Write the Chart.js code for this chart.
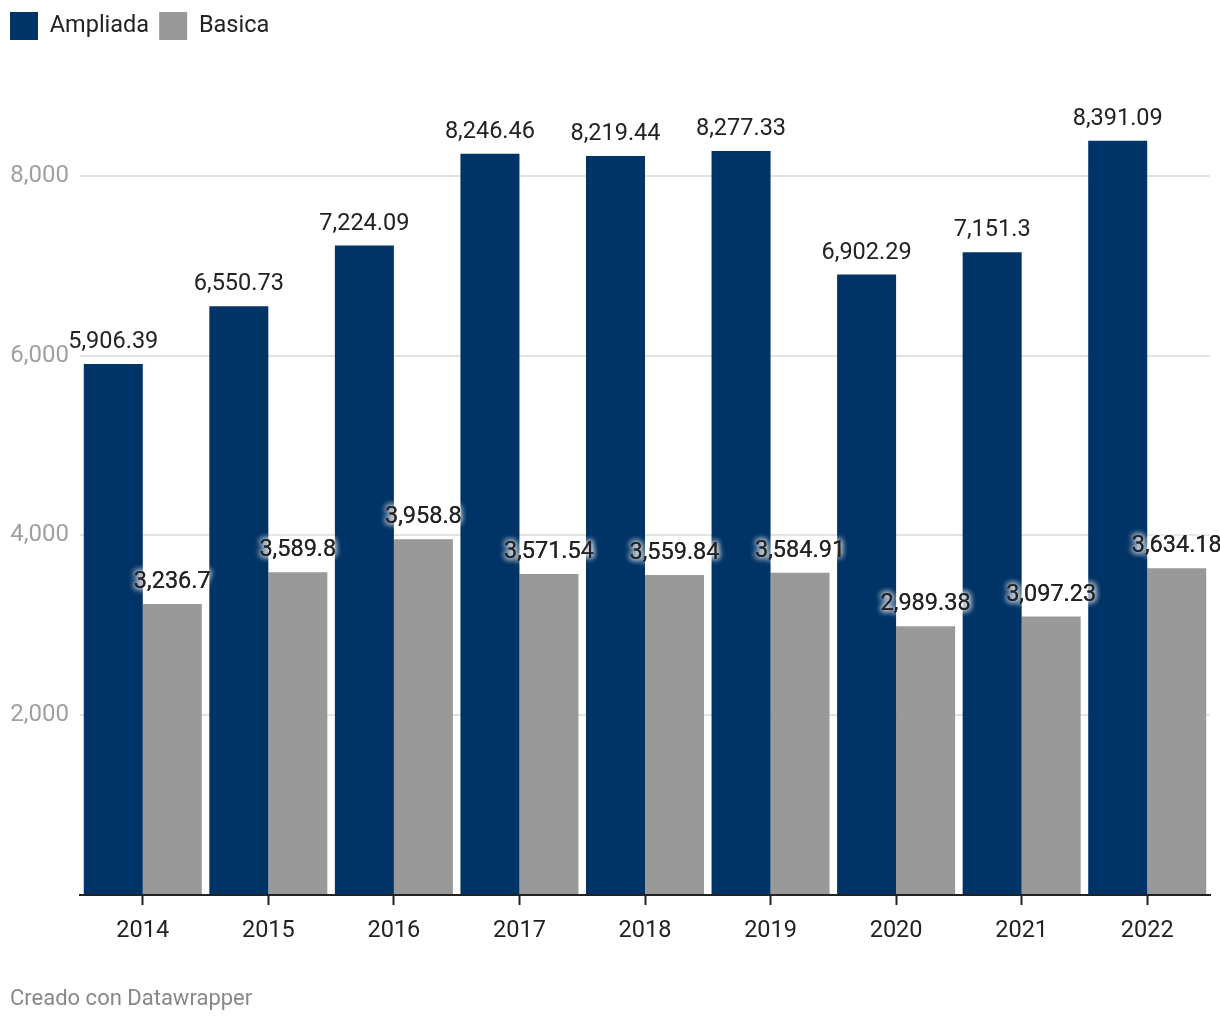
<!DOCTYPE html>
<html>
<head>
<meta charset="utf-8">
<script src="https://cdn.jsdelivr.net/npm/chart.js@4/dist/chart.umd.min.js"></script>
<style>
  body { margin: 0; background: #fff; }
  #wrap { position: relative; width: 1220px; height: 1020px; }
  #credit {
    position: absolute; left: 10px; top: 985px;
    font-family: Roboto, sans-serif; font-size: 22px; color: #888;
  }
</style>
</head>
<body>
<div id="wrap">
  <canvas id="myChart" width="1220" height="1020"></canvas>
  <div id="credit">Creado con Datawrapper</div>
</div>
<script>
// DATA PART

var years = ['2014', '2015', '2016', '2017', '2018', '2019', '2020', '2021', '2022'];
var ampliada = [5906.39, 6550.73, 7224.09, 8246.46, 8219.44, 8277.33, 6902.29, 7151.3, 8391.09];
var basica = [3236.7, 3589.8, 3958.8, 3571.54, 3559.84, 3584.91, 2989.38, 3097.23, 3634.18];
var yTicks = [0, 2000, 4000, 6000, 8000];

var navy = '#003366';
var grey = '#999999';

function fmt(v){
    return v.toLocaleString('en-US', { maximumFractionDigits: 2 });
}

// LABELS PLUGIN

var valueLabels = {
    id: 'valueLabels',
    afterDatasetsDraw(chart){
        var ctx = chart.ctx;
        chart.data.datasets.forEach((ds, i) => {
            var meta = chart.getDatasetMeta(i);
            meta.data.forEach((bar, j) => {
                ctx.save();
                ctx.font = '23.5px Roboto';
                ctx.textAlign = 'center';
                ctx.textBaseline = 'alphabetic';
                ctx.fillStyle = '#222';
                var txt = fmt(ds.data[j]);
                if(i === 1){
                    // white halo so the text stays readable over the navy bar
                    ctx.shadowColor = 'rgba(255,255,255,1)';
                    ctx.shadowBlur = 6;
                    ctx.fillText(txt, bar.x, bar.y - 16);
                    ctx.fillText(txt, bar.x, bar.y - 16);
                }
                ctx.fillText(txt, bar.x, bar.y - 16);
                ctx.restore();
            });
        });
    }
};

// CHART PART

var ctx = document.getElementById('myChart').getContext('2d');
var myChart = new Chart(ctx, {
    type: 'bar',
    data: {
        labels: years,
        datasets: [{
            label: 'Ampliada',
            data: ampliada,
            backgroundColor: navy,
            borderWidth: 0
        }, {
            label: 'Basica',
            data: basica,
            backgroundColor: grey,
            borderWidth: 0
        }]
    },
    options: {
        responsive: false,
        animation: false,
        devicePixelRatio: 1,
        categoryPercentage: 0.94,
        barPercentage: 1,
        layout: {
            padding: { left: 0, right: 10, top: 2, bottom: 0 }
        },
        plugins: {
            legend: {
                position: 'top',
                align: 'start',
                labels: {
                    boxWidth: 28,
                    boxHeight: 28,
                    color: '#222',
                    font: { family: 'Roboto', size: 23.5 },
                    padding: 10
                }
            },
            tooltip: { enabled: false }
        },
        scales: {
            x: {
                grid: {
                    offset: false,
                    drawOnChartArea: false,
                    drawTicks: true,
                    tickLength: 10,
                    tickWidth: 2,
                    tickColor: '#222'
                },
                border: { display: true, color: '#222', width: 2 },
                ticks: {
                    color: '#222',
                    padding: 12,
                    font: { family: 'Roboto', size: 23.5 }
                },
                afterFit: (scale) => { scale.height = 125; }
            },
            y: {
                min: 0,
                max: 9400,
                afterBuildTicks: (scale) => {
                    scale.ticks = yTicks.map(v => ({ value: v }));
                },
                grid: {
                    drawTicks: false,
                    color: (c) => c.tick && c.tick.value === 0 ? 'rgba(0,0,0,0)' : '#e3e3e3',
                    lineWidth: 2
                },
                border: { display: false },
                ticks: {
                    color: '#a0a0a0',
                    padding: 11,
                    font: { family: 'Roboto', size: 24 },
                    callback: (v) => v === 0 ? '' : fmt(v)
                },
                afterFit: (scale) => { scale.width = 80; }
            }
        }
    },
    plugins: [valueLabels]
});
</script>
</body>
</html>
